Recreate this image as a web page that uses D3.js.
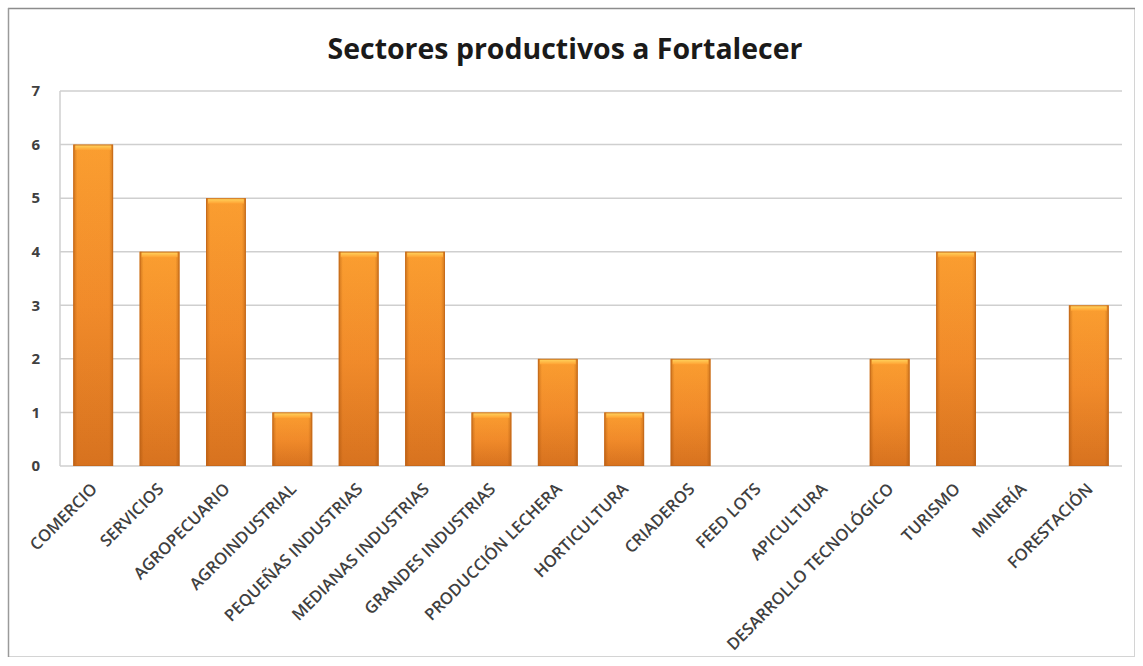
<!DOCTYPE html>
<html>
<head>
<meta charset="utf-8">
<script src="https://cdn.jsdelivr.net/npm/d3@7/dist/d3.min.js"></script>
<style>
  html, body { margin: 0; padding: 0; background: #fff; }
  svg { display: block; }
</style>
</head>
<body>
<svg id="chart" width="1143" height="666"></svg>
<script>
const categories = ["COMERCIO", "SERVICIOS", "AGROPECUARIO", "AGROINDUSTRIAL", "PEQUEÑAS INDUSTRIAS",
  "MEDIANAS INDUSTRIAS", "GRANDES INDUSTRIAS", "PRODUCCIÓN LECHERA", "HORTICULTURA", "CRIADEROS",
  "FEED LOTS", "APICULTURA", "DESARROLLO TECNOLÓGICO", "TURISMO", "MINERÍA", "FORESTACIÓN"];
const values = [6, 4, 5, 1, 4, 4, 1, 2, 1, 2, 0, 0, 2, 4, 0, 3];
const yTicks = [0, 1, 2, 3, 4, 5, 6, 7];
const title = "Sectores productivos a Fortalecer";

const svg = d3.select("#chart");
const plot = { left: 60, right: 1122, top: 91, bottom: 466 };
const font = "'Open Sans', 'Noto Sans', sans-serif";

// defs
const defs = svg.append("defs");
const gv = defs.append("linearGradient").attr("id", "barV").attr("x1", 0).attr("y1", 0).attr("x2", 0).attr("y2", 1);
gv.append("stop").attr("offset", "0%").attr("stop-color", "#FFA232");
gv.append("stop").attr("offset", "50%").attr("stop-color", "#F58E2C");
gv.append("stop").attr("offset", "100%").attr("stop-color", "#DA7420");
const gh = defs.append("linearGradient").attr("id", "barH").attr("x1", 0).attr("y1", 0).attr("x2", 1).attr("y2", 0);
gh.append("stop").attr("offset", "0%").attr("stop-color", "#A04E0A").attr("stop-opacity", 0.5);
gh.append("stop").attr("offset", "10%").attr("stop-color", "#A04E0A").attr("stop-opacity", 0.05);
gh.append("stop").attr("offset", "90%").attr("stop-color", "#A04E0A").attr("stop-opacity", 0.05);
gh.append("stop").attr("offset", "100%").attr("stop-color", "#A04E0A").attr("stop-opacity", 0.5);
const gt = defs.append("linearGradient").attr("id", "barT").attr("x1", 0).attr("y1", 0).attr("x2", 0).attr("y2", 1);
gt.append("stop").attr("offset", "0%").attr("stop-color", "#FFD45E");
gt.append("stop").attr("offset", "100%").attr("stop-color", "#FFA232");

// frame
svg.append("rect").attr("x", 8.5).attr("y", 8.5).attr("width", 1126).attr("height", 648)
  .attr("fill", "#fff").attr("stroke", "#d4d4d4").attr("stroke-width", 1);
svg.append("line").attr("x1", 8).attr("x2", 1135).attr("y1", 8.5).attr("y2", 8.5).attr("stroke", "#8c8c8c").attr("stroke-width", 1.5);
svg.append("line").attr("x1", 8.5).attr("x2", 8.5).attr("y1", 8).attr("y2", 657).attr("stroke", "#9a9a9a").attr("stroke-width", 1.5);

const x = d3.scaleBand().domain(categories).range([plot.left, plot.right]).paddingInner(0.4).paddingOuter(0.2);
const y = d3.scaleLinear().domain([0, 7]).range([plot.bottom, plot.top]);

// gridlines
svg.append("g").selectAll("line").data(yTicks).join("line")
  .attr("x1", plot.left).attr("x2", plot.right)
  .attr("y1", d => y(d)).attr("y2", d => y(d))
  .attr("stroke", "#cfcfcf").attr("stroke-width", 1.5);
svg.append("line").attr("x1", plot.left).attr("x2", plot.left).attr("y1", plot.top).attr("y2", plot.bottom)
  .attr("stroke", "#cfcfcf").attr("stroke-width", 1.5);

// y axis labels
const yAxis = d3.axisLeft(y).tickValues(yTicks).tickSize(0).tickPadding(20).tickFormat(d3.format("d"));
const gy = svg.append("g").attr("transform", `translate(${plot.left},0)`).call(yAxis);
gy.select(".domain").remove();
gy.selectAll("text").attr("font-family", font).attr("font-size", 15).attr("font-weight", 700).attr("fill", "#404040");

// bars
const bars = svg.append("g");
const data = categories.map((c, i) => ({ c, v: values[i] }));
const nz = data.filter(d => d.v > 0);
bars.selectAll("rect.b").data(nz).join("rect").attr("class", "b")
  .attr("x", d => x(d.c)).attr("width", x.bandwidth())
  .attr("y", d => y(d.v)).attr("height", d => y(0) - y(d.v))
  .attr("fill", "url(#barV)");
bars.selectAll("rect.h").data(nz).join("rect").attr("class", "h")
  .attr("x", d => x(d.c)).attr("width", x.bandwidth())
  .attr("y", d => y(d.v)).attr("height", d => y(0) - y(d.v))
  .attr("fill", "url(#barH)");
bars.selectAll("rect.t").data(nz).join("rect").attr("class", "t")
  .attr("x", d => x(d.c) + 2).attr("width", x.bandwidth() - 4)
  .attr("y", d => y(d.v) + 0.5).attr("height", 5)
  .attr("fill", "url(#barT)");
bars.selectAll("rect.o").data(nz).join("rect").attr("class", "o")
  .attr("x", d => x(d.c) + 0.5).attr("width", x.bandwidth() - 1)
  .attr("y", d => y(d.v) + 0.5).attr("height", d => y(0) - y(d.v) - 1)
  .attr("fill", "none").attr("stroke", "#c2651a").attr("stroke-width", 1).attr("stroke-opacity", 0.7);

// x labels
const xg = svg.append("g");
xg.selectAll("text").data(categories).join("text")
  .attr("transform", d => `translate(${x(d) + x.bandwidth() / 2 + 1},${plot.bottom + 20}) rotate(-45)`)
  .attr("text-anchor", "end")
  .attr("dy", "0.35em")
  .attr("font-family", font).attr("font-size", 16.5).attr("font-weight", 600)
  .attr("fill", "#404040")
  .text(d => d);

// title
const t = svg.append("text").attr("x", 565).attr("y", 59).attr("text-anchor", "middle")
  .attr("font-family", font).attr("font-weight", 700)
  .attr("font-size", 28).attr("fill", "#1a1a1a").text(title);
const tl = t.node().getComputedTextLength();
t.attr("font-size", 28 * 475 / tl);
</script>
</body>
</html>
